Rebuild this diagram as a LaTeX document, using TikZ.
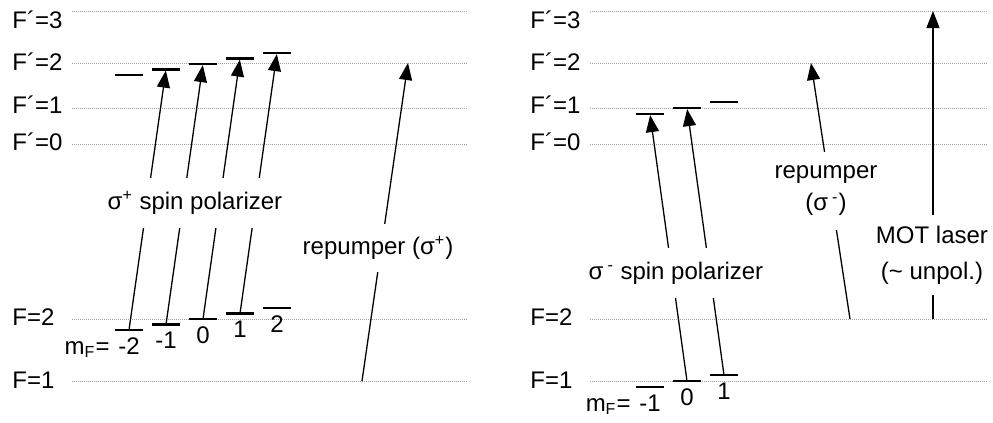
\documentclass[tikz,border=0pt]{standalone}
\usepackage{fontspec}
\setmainfont{Liberation Sans}
\usepackage{tikz}
\usetikzlibrary{arrows.meta,positioning}
\tikzset{every picture/.append style={font=\fontsize{12}{16}\selectfont}}
\tikzset{
  lvl/.style={gray!75,line width=0.5pt,dash pattern=on 0.5pt off 0.5pt},
  sub/.style={fill=black,minimum width=14pt,minimum height=1.1pt,inner sep=0pt,outer sep=0pt},
  num/.style={inner sep=2pt},
  pump/.style={line width=0.65pt,-{Triangle[length=8.5pt,width=6.5pt]}},
  lbl/.style={fill=white,inner xsep=2pt,inner ysep=0pt}
}

\begin{document}
\begin{tikzpicture}[x=0.5pt,y=-0.5pt]
    \useasboundingbox (0,0) rectangle (993,423);
    \foreach \y/\t [count=\i] in {28/F´=3,70/F´=2,113/F´=1,150/F´=0,325/F=2,388/F=1} {
      \node[anchor=base west,inner sep=0pt] (lL\i) at (12,\y) {\t};
      \node[anchor=base west,inner sep=0pt] (lR\i) at (530,\y) {\t};
    }
    \foreach \y in {11,63,108,144,319,381} {
      \draw[lvl] (72,\y) -- (467,\y);
      \draw[lvl] (590,\y) -- (987,\y);
    }
    \foreach \m [count=\i from 0] in {-2,-1,0,1,2} {
      \node[sub] (gL\m) at (129+37*\i,330-5.5*\i) {};
      \node[sub] (eL\m) at (129+37*\i,75-5.5*\i) {};
      \node[num,below=1pt of gL\m] (nL\m) {\m};
    }
    \node[num,base left=0pt of nL-2] (mL) {m\textsubscript{F}=};
    \foreach \a/\b in {-2/-1,-1/0,0/1,1/2} {\draw[pump] (gL\a) -- (eL\b);}
    \coordinate (rpL1) at (362,381);
    \coordinate (rpL2) at (408,63);
    \draw[pump] (rpL1) -- (rpL2);
    \node[lbl,minimum height=25pt] (polL) at (195,203) {σ\textsuperscript{+} spin polarizer};
    \node[lbl,minimum height=24pt] (rpLt) at (378,248) {repumper (σ\textsuperscript{+})};
    \foreach \m [count=\i from 0] in {-1,0,1} {
      \node[sub] (gR\m) at (650+37*\i,387-6*\i) {};
      \node[sub] (eR\m) at (650+37*\i,114-6*\i) {};
      \node[num,below=1pt of gR\m] (nR\m) {\m};
    }
    \node[num,base left=0pt of nR-1] (mR) {m\textsubscript{F}=};
    \foreach \a/\b in {0/-1,1/0} {\draw[pump] (gR\a) -- (eR\b);}
    \coordinate (rpR1) at (850,319);
    \coordinate (rpR2) at (811,63);
    \draw[pump] (rpR1) -- (rpR2);
    \coordinate (mot1) at (933,319);
    \coordinate (mot2) at (933,11);
    \draw[pump] (mot1) -- (mot2);
    \node[lbl,minimum height=25pt] (polR) at (676,273) {σ\,\textsuperscript{-} spin polarizer};
    \node[lbl,minimum height=39pt,align=center] (rpRt) at (826,191) {repumper\\(σ\,\textsuperscript{-})};
    \node[lbl,minimum height=40pt,align=center] (mott) at (932,255) {MOT laser\\[2pt](\textasciitilde{} unpol.)};
  \end{tikzpicture}
\end{document}
